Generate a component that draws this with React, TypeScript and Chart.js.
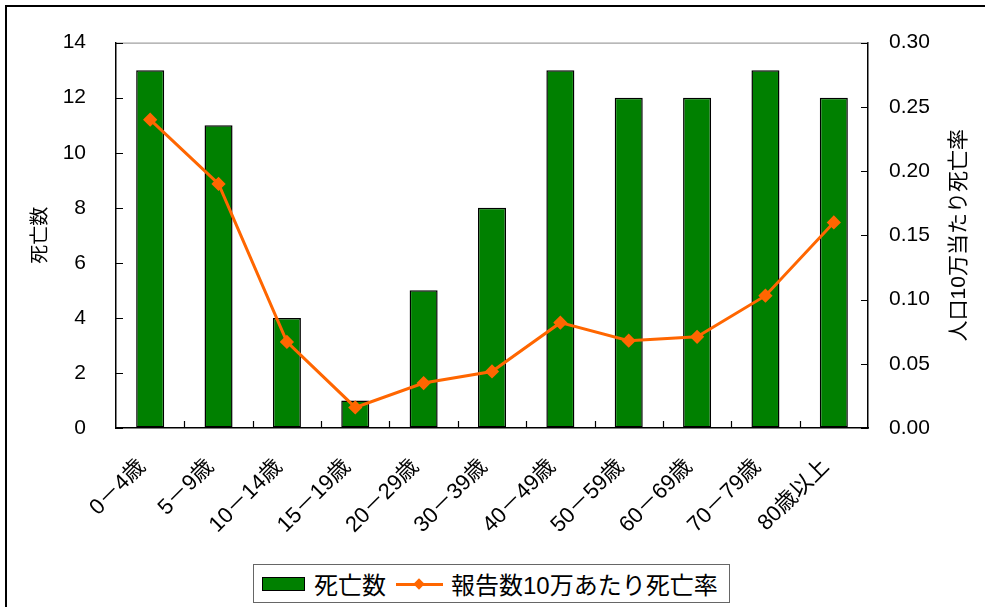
import { useEffect, useRef } from "react"
import { Chart, registerables } from "chart.js"

Chart.register(...registerables)

const FONT = "'Liberation Sans', 'Noto Sans CJK JP', sans-serif"

// age groups
const ageGroups = [
  "0－4歳",
  "5－9歳",
  "10－14歳",
  "15－19歳",
  "20－29歳",
  "30－39歳",
  "40－49歳",
  "50－59歳",
  "60－69歳",
  "70－79歳",
  "80歳以上",
]

// deaths (left axis)
const deaths = [13, 11, 4, 1, 5, 8, 13, 12, 12, 13, 12]

// death rate per 100k reports (right axis)
const deathRate = [0.24, 0.19, 0.067, 0.016, 0.035, 0.044, 0.082, 0.068, 0.071, 0.103, 0.16]

const deathsLabel = "死亡数"
const rateLabel = "報告数10万あたり死亡率"
const rateAxisTitle = "人口10万当たり死亡率"

// inward tick marks, grey top edge, and the right axis title (read bottom to top like the left one)
const frameTicks = {
  id: "frameTicks",
  afterDraw(chart: any) {
    const { ctx, chartArea } = chart
    const { left, right, top, bottom } = chartArea
    const y = chart.scales.y
    const y1 = chart.scales.y1
    const x = chart.scales.x
    ctx.save()
    ctx.strokeStyle = "#888"
    ctx.lineWidth = 1
    ctx.beginPath()
    ctx.moveTo(left, top + 0.5)
    ctx.lineTo(right, top + 0.5)
    ctx.stroke()

    ctx.strokeStyle = "#000"
    ctx.lineWidth = 1.2
    ctx.beginPath()
    y.ticks.forEach((t: any) => {
      const py = Math.round(y.getPixelForValue(t.value)) + 0.5
      ctx.moveTo(left, py)
      ctx.lineTo(left + 7, py)
    })
    y1.ticks.forEach((t: any) => {
      const py = Math.round(y1.getPixelForValue(t.value)) + 0.5
      ctx.moveTo(right - 7, py)
      ctx.lineTo(right, py)
    })
    for (let i = 0; i < ageGroups.length - 1; i++) {
      const px = Math.round((x.getPixelForValue(i) + x.getPixelForValue(i + 1)) / 2) + 0.5
      ctx.moveTo(px, bottom)
      ctx.lineTo(px, bottom - 7)
    }
    ctx.stroke()

    ctx.translate(y1.right - 13, (top + bottom) / 2)
    ctx.rotate(-Math.PI / 2)
    ctx.fillStyle = "#000"
    ctx.font = `21px ${FONT}`
    ctx.textAlign = "center"
    ctx.textBaseline = "middle"
    ctx.fillText(rateAxisTitle, 0, 0)
    ctx.restore()
  },
}

export default function App() {
  const chartRef = useRef<HTMLCanvasElement>(null)

  useEffect(() => {
    if (!chartRef.current) return
    const chart = new Chart(chartRef.current, {
      type: "bar",
      data: {
        labels: ageGroups,
        datasets: [
          {
            type: "line",
            label: rateLabel,
            data: deathRate,
            yAxisID: "y1",
            borderColor: "#FF6600",
            backgroundColor: "#FF6600",
            borderWidth: 3,
            pointStyle: "rectRot",
            pointRadius: 5,
            pointBackgroundColor: "#FF6600",
            pointBorderColor: "#FF6600",
            order: 0,
          },
          {
            type: "bar",
            label: deathsLabel,
            data: deaths,
            yAxisID: "y",
            backgroundColor: "#008000",
            borderColor: "#000",
            borderWidth: 1.5,
            borderSkipped: false,
            categoryPercentage: 1,
            barPercentage: 0.41,
            order: 1,
          },
        ] as any,
      },
      options: {
        animation: false,
        responsive: true,
        maintainAspectRatio: false,
        layout: { padding: { left: 25, right: 13, top: 42, bottom: 0 } },
        plugins: {
          legend: { display: false },
          tooltip: { enabled: false },
        },
        scales: {
          x: {
            grid: { display: false, drawTicks: false },
            border: { display: true, color: "#000", width: 1.5 },
            ticks: {
              color: "#000",
              font: { family: FONT, size: 22 },
              minRotation: 45,
              maxRotation: 45,
              padding: 26,
              labelOffset: -8,
            },
            afterFit: (scale: any) => {
              scale.height = 179
            },
          },
          y: {
            position: "left",
            min: 0,
            max: 14,
            grid: { drawOnChartArea: false, drawTicks: false },
            border: { display: true, color: "#000", width: 1.5 },
            ticks: {
              stepSize: 2,
              color: "#000",
              font: { family: FONT, size: 21 },
              padding: 30,
            },
            title: {
              display: true,
              text: deathsLabel,
              color: "#000",
              font: { family: FONT, size: 19 },
            },
            afterFit: (scale: any) => {
              scale.width = 91
            },
          },
          y1: {
            position: "right",
            min: 0,
            max: 0.3,
            grid: { drawOnChartArea: false, drawTicks: false },
            border: { display: true, color: "#000", width: 1.5 },
            ticks: {
              stepSize: 0.05,
              color: "#000",
              font: { family: FONT, size: 21 },
              padding: 21,
              callback: (v: any) => Number(v).toFixed(2),
            },
            afterFit: (scale: any) => {
              scale.width = 104
            },
          },
        },
      },
      plugins: [frameTicks],
    })
    return () => chart.destroy()
  }, [])

  return (
    <div style={{ position: "fixed", left: 0, top: 0, width: 985, height: 607, background: "#fff", overflow: "hidden" }}>
      <div
        style={{
          position: "absolute",
          left: 5,
          top: 5,
          width: 1000,
          height: 700,
          border: "2px solid #000",
        }}
      />
      <div style={{ position: "absolute", left: 0, top: 0, width: 985, height: 607 }}>
        <canvas ref={chartRef} />
      </div>
      <div
        style={{
          position: "absolute",
          left: 253,
          top: 564,
          width: 475,
          height: 37,
          border: "1px solid #666",
          background: "#fff",
          display: "flex",
          alignItems: "center",
          fontFamily: FONT,
          fontSize: 24,
          color: "#000",
          whiteSpace: "nowrap",
        }}
      >
        <div style={{ width: 41, height: 12, background: "#008000", border: "1px solid #000", marginLeft: 8 }} />
        <span style={{ marginLeft: 9 }}>{deathsLabel}</span>
        <div style={{ position: "relative", width: 47, height: 12, marginLeft: 10 }}>
          <div style={{ position: "absolute", left: 0, top: 5, width: 47, height: 3, background: "#FF6600" }} />
          <div
            style={{
              position: "absolute",
              left: 19,
              top: 2,
              width: 8,
              height: 8,
              background: "#FF6600",
              transform: "rotate(45deg)",
            }}
          />
        </div>
        <span style={{ marginLeft: 8 }}>{rateLabel}</span>
      </div>
    </div>
  )
}
